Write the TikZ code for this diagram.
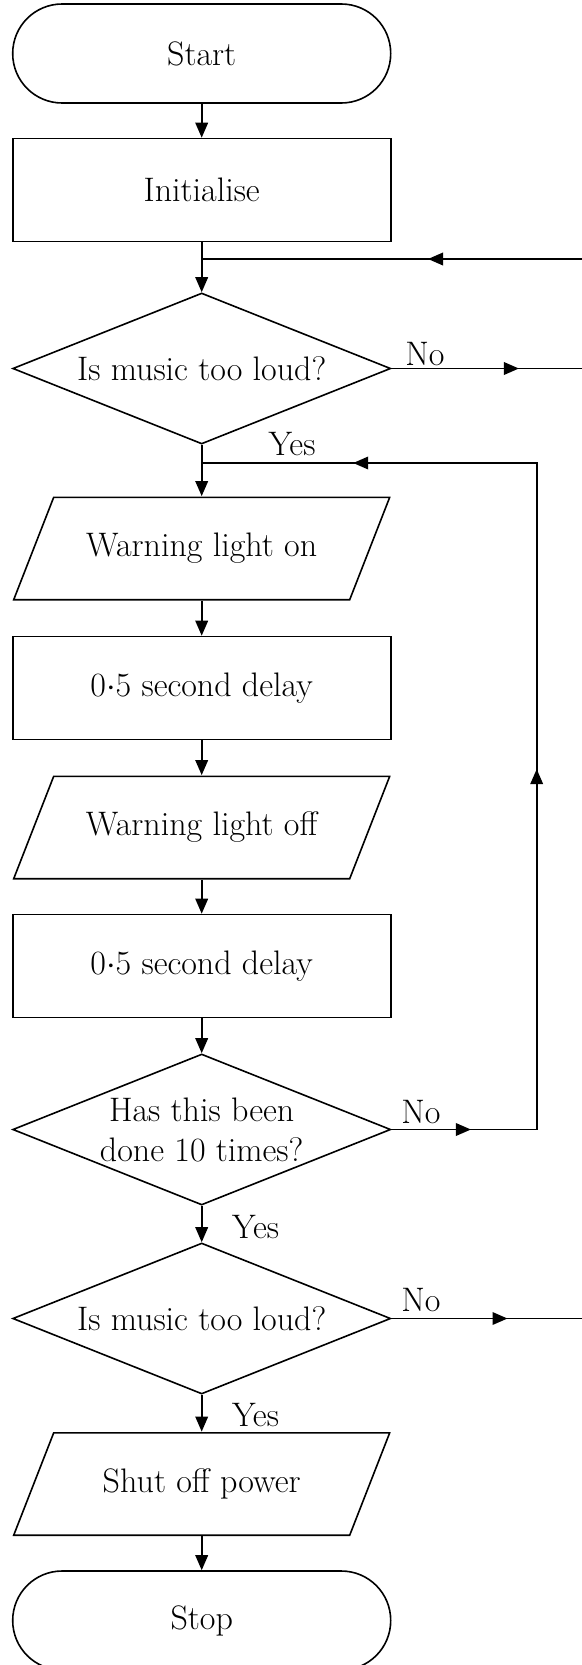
\documentclass[tikz,border=0pt]{standalone}
\usetikzlibrary{shapes.geometric,arrows.meta,decorations.markings}
\begin{document}
\begin{tikzpicture}[x=0.5pt,y=-0.5pt,
  every node/.style={font=\fontsize{17}{20}\selectfont},
  term/.style={draw, line width=0.8pt, rectangle, rounded corners=24.7pt, minimum width=189pt, minimum height=49.5pt},
  proc/.style={draw, line width=0.8pt, rectangle, minimum width=189pt, minimum height=51.5pt},
  decide/.style={draw, line width=0.8pt, diamond, aspect=2.5, inner sep=0pt, minimum width=189pt, minimum height=75.5pt, align=center},
  io/.style={rectangle, minimum width=189pt, minimum height=52pt,
    path picture={\draw[line width=0.8pt, line join=miter]
      ([shift={(20.5pt,-0.4pt)}]path picture bounding box.north west)
      -- ([shift={(-0.5pt,-0.4pt)}]path picture bounding box.north east)
      -- ([shift={(-20.5pt,0.4pt)}]path picture bounding box.south east)
      -- ([shift={(0.5pt,0.4pt)}]path picture bounding box.south west) -- cycle;}},
  lbl/.style={inner sep=0pt},
  line/.style={line width=0.8pt},
  flow/.style={line, -{Triangle[length=7.5pt,width=6.3pt]}},
  tip/.style={postaction={decorate, decoration={markings, mark=at position #1 with {\arrow{Triangle[length=7.5pt,width=6.3pt]}}}}},
]
\useasboundingbox (0,0) rectangle (582,1665);
% main column
\node[term] (start) at (201.7,53.5){Start};
\node[proc] (init) at (201.7,190){Initialise};
\node[decide] (d1) at (201.7,368.5){Is music too loud?};
\node[io] (wlon) at (201.7,548.5){Warning light on};
\node[proc] (del1) at (201.7,688){0$\cdot$5 second delay};
\node[io] (wloff) at (201.7,827.5){Warning light off};
\node[proc] (del2) at (201.7,966){0$\cdot$5 second delay};
\node[decide] (d2) at (201.7,1129.5){Has this been\\done 10 times?};
\node[decide] (d3) at (201.7,1318.5){Is music too loud?};
\node[io] (shut) at (201.7,1484){Shut off power};
\node[term] (stop) at (201.7,1620.5){Stop};
\draw[flow](start) -- (init);
\draw[flow](init) -- (d1);
\draw[flow](d1) -- (wlon);
\draw[flow](wlon) -- (del1);
\draw[flow](del1) -- (wloff);
\draw[flow](wloff) -- (del2);
\draw[flow](del2) -- (d2);
\draw[flow](d2) -- (d3);
\draw[flow](d3) -- (shut);
\draw[flow](shut) -- (stop);
% loop back in from the right
\coordinate (j1) at (201.7,259);
\coordinate (e1) at (590,259);
\draw[line, tip=81pt](e1) -- (j1);
% no branches
\coordinate (e2) at (590,368.5);
\draw[line, tip=63.7pt](d1.east) -- (e2);
\node[lbl] (no1) at (425,354){No};
\node[lbl] (yes1) at (292,444.5){Yes};
\coordinate (j2) at (201.7,463);
\coordinate (c1) at (536.7,463);
\coordinate (c2) at (536.7,1129.5);
\draw[line, tip=39.7pt, tip=252.8pt, tip=497.6pt](d2.east) -- (c2) -- (c1) -- (j2);
\node[lbl] (no2) at (421,1112){No};
\node[lbl] (yes2) at (255.7,1227){Yes};
\coordinate (e3) at (590,1318.5);
\draw[line, tip=58pt](d3.east) -- (e3);
\node[lbl] (no3) at (421,1300.5){No};
\node[lbl] (yes3) at (255.5,1415){Yes};
\end{tikzpicture}
\end{document}
